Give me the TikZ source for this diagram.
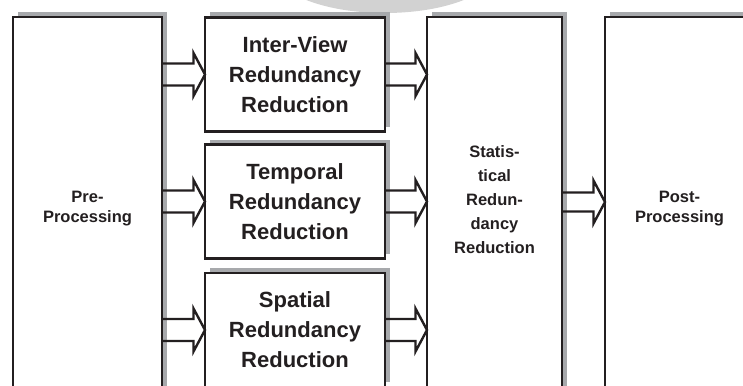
\documentclass[tikz,border=0pt]{standalone}
\usepackage{fontspec}
\setmainfont{Liberation Sans}
\usetikzlibrary{calc,shadows}
\definecolor{ink}{HTML}{231F20}
\definecolor{shade}{HTML}{A7A9AC}
\definecolor{markgray}{HTML}{D2D2D2}

% open-ended block arrow: shaft starts at #1, tip lands on #2, shaft half-height #3
\newcommand\hollowarrow[3]{%
  \draw[hollow] let \p1=(#1), \p2=(#2) in
    (\x1,\y2+#3) -- (\x2-11.5pt,\y2+#3) -- (\x2-11.5pt,\y2+21.5pt) -- (\x2,\y2)
    -- (\x2-11.5pt,\y2-21.5pt) -- (\x2-11.5pt,\y2-#3) -- (\x1,\y2-#3);}

\begin{document}
\begin{tikzpicture}[x=1pt,y=-1pt,
  block/.style={rectangle, draw=ink, line width=2.6pt, fill=white,
    inner sep=0pt, outer sep=0pt, align=center, text=ink,
    font=\bfseries\fontsize{22}{30}\selectfont,
    drop shadow={shadow xshift=5pt, shadow yshift=5pt, fill=shade, opacity=1}},
  stage/.style={block, minimum width=180pt, minimum height=114pt},
  tall/.style={block, minimum width=149pt, minimum height=383pt,
    font=\bfseries\fontsize{16.5}{20}\selectfont},
  caption/.style={align=center, text=ink, inner sep=0pt,
    font=\bfseries\fontsize{16.5}{24}\selectfont},
  hollow/.style={draw=ink, line width=2.4pt, line join=miter}]
\useasboundingbox (0,0) rectangle (743,385);
\clip (0,0) rectangle (743,385);

% faint seal behind the top edge
\fill[markgray] (385,-32) ellipse [x radius=112pt, y radius=45pt];

% outer stages
\node[tall] (pre) at (87.5,208.5) {Pre-\\Processing};
\node[tall, minimum width=135pt] (stat) at (494.5,208.5) {};
\node[caption] (statlbl) at (494.5,199.5) {Statis-\\tical\\Redun-\\dancy\\Reduction};
\node[tall] (post) at (679.5,208.5) {Post-\\Processing};

% parallel reduction stages
\node[stage] (m1) at (295,74.5) {Inter-View\\Redundancy\\Reduction};
\node[stage] (m2) at (295,201.5) {Temporal\\Redundancy\\Reduction};
\node[stage] (m3) at (295,330) {Spatial\\Redundancy\\Reduction};

\coordinate (exit) at (0,202);

% block arrows
\hollowarrow{pre.east}{m1.west}{11pt}
\hollowarrow{pre.east}{m2.west}{11pt}
\hollowarrow{pre.east}{m3.west}{11pt}
\hollowarrow{m1.east}{stat.west|-m1.east}{11pt}
\hollowarrow{m2.east}{stat.west|-m2.east}{11pt}
\hollowarrow{m3.east}{stat.west|-m3.east}{11pt}
\hollowarrow{stat.east}{post.west|-exit}{9.5pt}
\end{tikzpicture}
\end{document}
